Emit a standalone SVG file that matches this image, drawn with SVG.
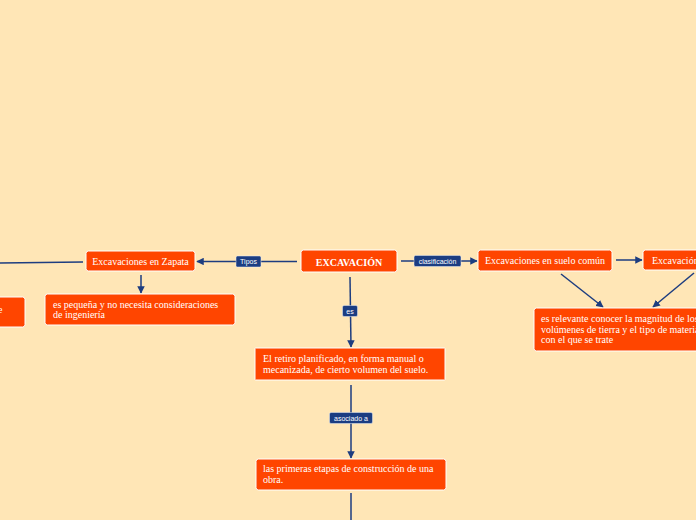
<svg xmlns="http://www.w3.org/2000/svg" width="696" height="520" viewBox="0 0 696 520">
<defs>
<marker id="ah" viewBox="0 0 10 10" refX="9" refY="5" markerWidth="5" markerHeight="5" orient="auto" markerUnits="strokeWidth">
<path d="M0,0 L10,5 L0,10 z" fill="#1d3d80"/>
</marker>
<style>
.n{fill:#ff4500;stroke:#ffffff;stroke-width:1}
.t{font-family:"Liberation Serif","Times New Roman",serif;font-size:10px;fill:#ffffff}
.c{stroke:#1d3d80;stroke-width:1.5;fill:none}
.ca{stroke:#1d3d80;stroke-width:1.5;fill:none;marker-end:url(#ah)}
.lb{fill:#1b3d82;stroke:#e8ecf5;stroke-width:0.5}
.lt{font-family:"Liberation Sans",Arial,sans-serif;font-size:7px;fill:#ffffff;text-anchor:middle}
</style>
</defs>
<rect width="696" height="520" fill="#ffe6b6"/>
<g id="connectors">
<line class="ca" x1="297" y1="261.5" x2="197" y2="261.5"/>
<line class="c" x1="83" y1="262" x2="0" y2="263"/>
<line class="ca" x1="141" y1="275" x2="141" y2="293"/>
<line class="ca" x1="401" y1="261" x2="477" y2="261"/>
<line class="ca" x1="616" y1="260" x2="642" y2="260"/>
<line class="ca" x1="561" y1="274" x2="603" y2="307"/>
<line class="ca" x1="694" y1="273" x2="653" y2="307"/>
<line class="ca" x1="350" y1="277" x2="351" y2="347"/>
<line class="ca" x1="351" y1="385" x2="351" y2="458"/>
<line class="c" x1="351" y1="493" x2="351" y2="520"/>
</g>
<g id="label-tipos"><rect class="lb" x="236" y="256" width="25" height="11" rx="1.5"/><text class="lt" x="248.5" y="264">Tipos</text></g>
<g id="label-clasificacion"><rect class="lb" x="414" y="255.5" width="47" height="11" rx="1.5"/><text class="lt" x="437.5" y="263.5">clasificación</text></g>
<g id="label-es"><rect class="lb" x="342.5" y="305.5" width="15" height="11" rx="1.5"/><text class="lt" x="350" y="313.5">es</text></g>
<g id="label-asociado"><rect class="lb" x="329.5" y="412.5" width="43" height="11" rx="1.5"/><text class="lt" x="351" y="420.5">asociado a</text></g>
<g id="node-excavacion"><rect class="n" x="301" y="250" width="96" height="22" rx="2.5"/><text class="t" x="349" y="265.5" text-anchor="middle" font-weight="bold" font-size="13.5px">EXCAVACIÓN</text></g>
<g id="node-zapata"><rect class="n" x="86" y="251" width="109" height="20" rx="2.5"/><text class="t" x="140.5" y="264.5" text-anchor="middle">Excavaciones en Zapata</text></g>
<g id="node-left"><rect class="n" x="-10" y="297" width="35" height="30" rx="2.5"/><text class="t" x="-2" y="313">e</text></g>
<g id="node-pequena"><rect class="n" x="45" y="294" width="190" height="31" rx="2.5"/><text class="t" x="53" y="307.5">es pequeña y no necesita consideraciones</text><text class="t" x="53" y="317.5">de ingeniería</text></g>
<g id="node-suelo"><rect class="n" x="478" y="250" width="134" height="21" rx="2.5"/><text class="t" x="545" y="263.5" text-anchor="middle">Excavaciones en suelo común</text></g>
<g id="node-excav2"><rect class="n" x="643" y="250" width="70" height="20" rx="2.5"/><text class="t" x="652" y="263.5">Excavación</text></g>
<g id="node-relevante"><rect class="n" x="534" y="308" width="180" height="43" rx="2.5"/><text class="t" x="541" y="322">es relevante conocer la magnitud de los</text><text class="t" x="541" y="332.5">volúmenes de tierra y el tipo de material</text><text class="t" x="541" y="343">con el que se trate</text></g>
<g id="node-retiro"><rect class="n" x="255" y="348" width="190" height="32" rx="0.5"/><text class="t" x="263" y="362">El retiro planificado, en forma manual o</text><text class="t" x="263" y="373">mecanizada, de cierto volumen del suelo.</text></g>
<g id="node-etapas"><rect class="n" x="256" y="459" width="190" height="31" rx="2.5"/><text class="t" x="263" y="472">las primeras etapas de construcción de una</text><text class="t" x="263" y="482.5">obra.</text></g>
</svg>
